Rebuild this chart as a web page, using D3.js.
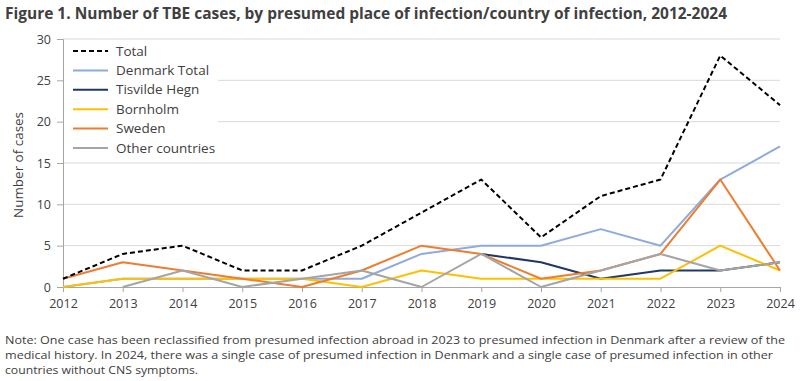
<!DOCTYPE html>
<html><head><meta charset="utf-8">
<script src="https://cdn.jsdelivr.net/npm/d3@7"></script>
<style>body{margin:0;background:#fff}svg{display:block}text{font-family:"Open Sans",sans-serif;fill:#404040}</style>
</head><body>
<script>
const years = [2012,2013,2014,2015,2016,2017,2018,2019,2020,2021,2022,2023,2024];
const total = [1,4,5,2,2,5,9,13,6,11,13,28,22];
const denmarkTotal = [0,1,1,1,1,1,4,5,5,7,5,13,17];
const tisvildeHegn = [null,null,null,null,null,null,null,4,3,1,2,2,3];
const bornholm = [0,1,1,1,1,0,2,1,1,1,1,5,2];
const sweden = [1,3,2,1,0,2,5,4,1,2,4,13,2];
const otherCountries = [null,0,2,0,1,2,0,4,0,2,4,2,3];
const yTicks = [0,5,10,15,20,25,30];
const seriesNames = ["Total","Denmark Total","Tisvilde Hegn","Bornholm","Sweden","Other countries"];
const seriesData = [total,denmarkTotal,tisvildeHegn,bornholm,sweden,otherCountries];
const colors = ["#000000","#8faadc","#1f3864","#ffc000","#ed7d31","#a5a5a5"];

const W=800,H=381;
const svg=d3.select("body").append("svg").attr("width",W).attr("height",H);
const x=d3.scaleLinear().domain([2012,2024]).range([63,780]);
const y=d3.scaleLinear().domain([0,30]).range([287,39]);

svg.append("text").attr("x",5).attr("y",19).attr("font-size",15.5).attr("font-weight","bold")
  .attr("textLength",722).attr("lengthAdjust","spacingAndGlyphs")
  .text("Figure 1. Number of TBE cases, by presumed place of infection/country of infection, 2012-2024");

// grid
svg.append("g").selectAll("line").data(yTicks.filter(d=>d>0)).join("line")
  .attr("x1",63).attr("x2",780).attr("y1",d=>y(d)).attr("y2",d=>y(d))
  .attr("stroke","#d9d9d9").attr("stroke-width",1);

// y axis
const ya=svg.append("g").attr("transform","translate(63,0)")
  .call(d3.axisLeft(y).tickValues(yTicks).tickSize(6).tickPadding(6));
ya.select(".domain").attr("stroke","#a6a6a6");
ya.selectAll(".tick line").attr("stroke","#a6a6a6");
ya.selectAll("text").attr("font-size",12.5).attr("fill","#404040").style("font-family","'Open Sans',sans-serif");

// x axis
const xa=svg.append("g").attr("transform","translate(0,287)")
  .call(d3.axisBottom(x).tickValues(years).tickFormat(d3.format("d")).tickSize(5).tickPadding(7));
xa.select(".domain").attr("stroke","#a6a6a6");
xa.selectAll(".tick line").attr("stroke","#a6a6a6");
xa.selectAll("text").attr("font-size",12.5).attr("fill","#404040").style("font-family","'Open Sans',sans-serif");

svg.append("text").attr("transform","translate(23,165) rotate(-90)").attr("text-anchor","middle")
  .attr("font-size",13).attr("textLength",106).attr("lengthAdjust","spacingAndGlyphs").text("Number of cases");

// lines (Total drawn on top)
const line=d3.line().defined(d=>d.v!==null).x(d=>x(d.yr)).y(d=>y(d.v));
const order=[1,2,3,4,5,0];
order.forEach(i=>{
  const pts=years.map((yr,j)=>({yr,v:seriesData[i][j]}));
  svg.append("path").datum(pts).attr("d",line).attr("fill","none")
    .attr("stroke",colors[i]).attr("stroke-width",2)
    .attr("stroke-dasharray",i===0?"5,3":null).attr("stroke-linejoin","round");
});

// legend
const lg=svg.append("g");
lg.append("rect").attr("x",64).attr("y",40).attr("width",154).attr("height",118).attr("fill","#fff");
seriesNames.forEach((n,i)=>{
  const yy=51+i*19.4;
  lg.append("line").attr("x1",73).attr("x2",108).attr("y1",yy).attr("y2",yy)
    .attr("stroke",colors[i]).attr("stroke-width",2).attr("stroke-dasharray",i===0?"5,3":null);
  lg.append("text").attr("x",116).attr("y",yy+4.5).attr("font-size",13.5).text(n);
});

// note
const notes=[
 ["Note: One case has been reclassified from presumed infection abroad in 2023 to presumed infection in Denmark after a review of the",780],
 ["medical history. In 2024, there was a single case of presumed infection in Denmark and a single case of presumed infection in other",768],
 ["countries without CNS symptoms.",193]];
notes.forEach((n,i)=>{
  svg.append("text").attr("x",5).attr("y",344+i*15).attr("font-size",11.5)
    .attr("textLength",n[1]).attr("lengthAdjust","spacingAndGlyphs").text(n[0]);
});
</script>
</body></html>
